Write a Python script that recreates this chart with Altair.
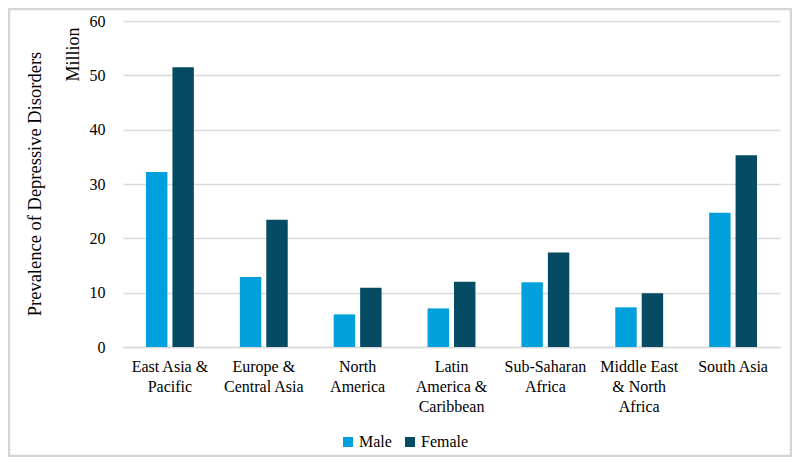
import altair as alt
import pandas as pd

regions = ["East Asia & Pacific", "Europe & Central Asia", "North America",
           "Latin America & Caribbean", "Sub-Saharan Africa",
           "Middle East & North Africa", "South Asia"]
label_lines = [["East Asia &", "Pacific"], ["Europe &", "Central Asia"],
               ["North", "America"], ["Latin", "America &", "Caribbean"],
               ["Sub-Saharan", "Africa"], ["Middle East", "& North", "Africa"],
               ["South Asia"]]
male = [32.2, 12.9, 6.0, 7.1, 11.9, 7.3, 24.7]
female = [51.5, 23.4, 10.9, 12.0, 17.4, 9.9, 35.3]
sexes = ["Male", "Female"]
colors = ["#00A0DC", "#044B63"]
y_ticks = [0, 10, 20, 30, 40, 50, 60]

rows = []
for i, r in enumerate(regions):
    rows.append({"region": r, "sex": "Male", "value": male[i]})
    rows.append({"region": r, "sex": "Female", "value": female[i]})
df = pd.DataFrame(rows)

def js_str(s):
    return "'" + s.replace("'", "\\'") + "'"

label_map = "{" + ", ".join(
    js_str(r) + ": [" + ", ".join(js_str(l) for l in lines) + "]"
    for r, lines in zip(regions, label_lines)) + "}"

FONT = "Liberation Serif"
TXT = "#000000"
W, H = 657, 326
PL, PT, PR, PB = 115, 13, 12, 110

bars = alt.Chart(df).mark_bar().encode(
    x=alt.X("region:N", sort=regions,
            scale=alt.Scale(paddingInner=0.49, paddingOuter=0.245),
            axis=alt.Axis(title=None, labelAngle=0, labelExpr=label_map + "[datum.label]",
                          labelFont=FONT, labelFontSize=16, labelColor=TXT,
                          labelLineHeight=20, labelPadding=11, ticks=False,
                          domainColor="#d9d9d9", domainWidth=1.5, labelLimit=200)),
    xOffset=alt.XOffset("sex:N", sort=sexes, scale=alt.Scale(paddingInner=0.19)),
    y=alt.Y("value:Q", scale=alt.Scale(domain=[0, 60], nice=False),
            axis=alt.Axis(values=y_ticks, title="Million", titleAngle=-90,
                          titleX=-50, titleY=6, titleAlign="right", titleBaseline="middle",
                          titleFont=FONT, titleFontSize=18, titleFontWeight="normal",
                          titleColor=TXT,
                          labelFont=FONT, labelFontSize=16, labelColor=TXT,
                          labelPadding=18, ticks=False, domain=False,
                          gridColor="#d9d9d9", gridWidth=1.5)),
    color=alt.Color("sex:N", sort=sexes,
                    scale=alt.Scale(domain=sexes, range=colors),
                    legend=alt.Legend(title=None, orient="none", direction="horizontal",
                                      legendX=217, legendY=413, symbolType="square",
                                      symbolSize=100, symbolStrokeWidth=0,
                                      labelFont=FONT, labelFontSize=16,
                                      labelColor=TXT, labelOffset=3,
                                      columnPadding=10, padding=0)),
)

ytitle = alt.Chart(pd.DataFrame({"t": ["Prevalence of Depressive Disorders"]})).mark_text(
    angle=270, font=FONT, fontSize=18.5, color=TXT, align="center", baseline="middle"
).encode(text="t:N", x=alt.value(-88), y=alt.value(H / 2))

border = alt.Chart(pd.DataFrame({"a": [0]})).mark_rect(
    fill="transparent", stroke="#d6d6d6", strokeWidth=2.5
).encode(x=alt.value(-PL + 1), x2=alt.value(W + PR - 1),
         y=alt.value(-PT + 1), y2=alt.value(H + PB - 1))

chart = alt.layer(border, bars, ytitle).properties(
    width=W, height=H,
    background="white",
    autosize=alt.AutoSizeParams(type="none"),
    padding={"left": PL, "top": PT, "right": PR, "bottom": PB},
).configure_view(
    strokeWidth=0
)

chart.save("out.html", embed_options={"renderer": "svg", "actions": False})
